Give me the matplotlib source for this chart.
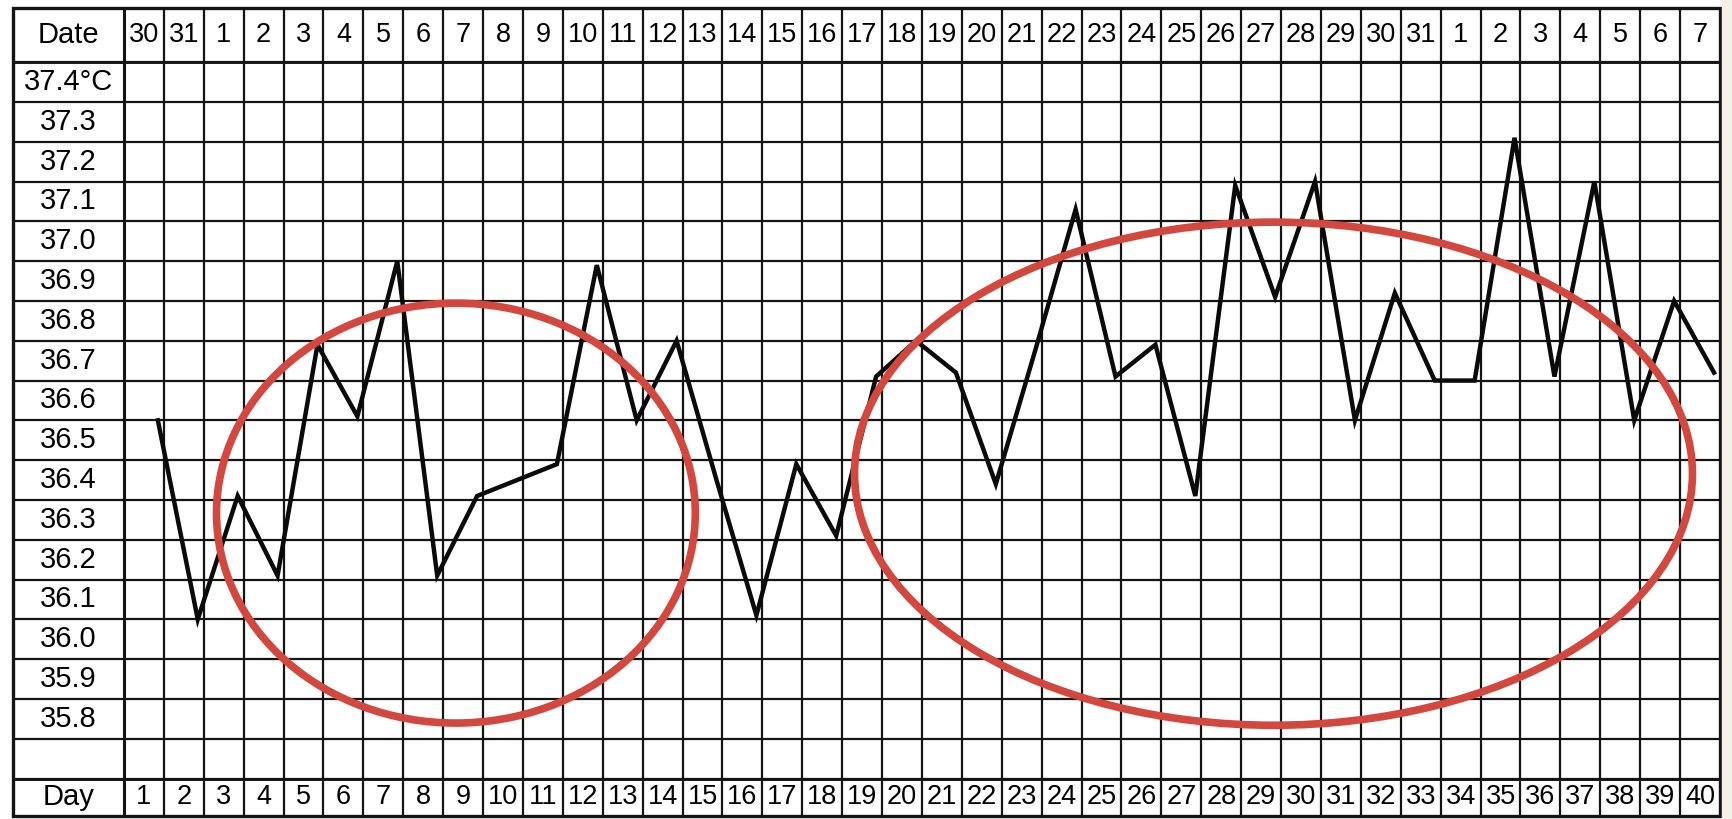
import numpy as np
import matplotlib.pyplot as plt
from matplotlib.patches import Ellipse, Rectangle
from matplotlib.transforms import ScaledTranslation

plt.rcParams['font.family'] = ['Liberation Sans', 'DejaVu Sans']

# --- data ---
days = np.arange(1, 41)
dates = ["30", "31", "1", "2", "3", "4", "5", "6", "7", "8", "9", "10", "11",
         "12", "13", "14", "15", "16", "17", "18", "19", "20", "21", "22", "23",
         "24", "25", "26", "27", "28", "29", "30", "31", "1", "2", "3", "4",
         "5", "6", "7"]
temps = [36.55, 36.05, 36.36, 36.16, 36.74, 36.56, 36.95, 36.16, 36.36, 36.40,
         36.44, 36.94, 36.55, 36.75, 36.40, 36.06, 36.44, 36.26, 36.66, 36.75,
         36.67, 36.39, 36.73, 37.08, 36.66, 36.74, 36.36, 37.14, 36.86, 37.15,
         36.55, 36.87, 36.65, 36.65, 37.26, 36.66, 37.15, 36.55, 36.85, 36.67]
temp_ticks = [37.4, 37.3, 37.2, 37.1, 37.0, 36.9, 36.8, 36.7, 36.6, 36.5,
              36.4, 36.3, 36.2, 36.1, 36.0, 35.9, 35.8]
temp_labels = ["37.4°C", "37.3", "37.2", "37.1", "37.0", "36.9", "36.8", "36.7",
               "36.6", "36.5", "36.4", "36.3", "36.2", "36.1", "36.0", "35.9", "35.8"]

# red rings: (centre day, centre temp, width in days, height in degrees)
rings = [(8.82, 36.317, 12.0, 1.055), (29.31, 36.416, 21.0, 1.264)]

# --- layout of the printed form ---
W, H = 1733, 819
fig = plt.figure(figsize=(W / 100, H / 100), dpi=100)
fig.patch.set_facecolor('white')
fig.patches.append(Rectangle((1722 / W, 0), 11 / W, 1, transform=fig.transFigure,
                             color='#f2f2e8', zorder=0))
ax = fig.add_axes([13 / W, 1 - 816 / H, (1720 - 13) / W, (816 - 8) / H])
x_left, x_right = -2.28, 40.5
y_bot, y_top = 35.556, 37.586
ax.set_xlim(x_left, x_right)
ax.set_ylim(y_bot, y_top)
ax.axis('off')

ink = '#141414'
for x in np.arange(1.5, 40.5, 1):
    ax.axvline(x, color=ink, lw=1.6, zorder=1)
ax.axvline(0.5, color=ink, lw=2.2, zorder=1)
row_edges = 37.45 - 0.1 * np.arange(19)
for y in row_edges:
    ax.axhline(y, color=ink, lw=1.6, zorder=1)
ax.axhline(37.45, color=ink, lw=2.1, zorder=1)
ax.axhline(35.65, color=ink, lw=2.1, zorder=1)
ax.add_patch(Rectangle((0, 0), 1, 1, transform=ax.transAxes, fill=False,
                       ec=ink, lw=2.4, clip_on=False, zorder=2))

# --- texts ---
label_x = (x_left + 0.5) / 2
date_y = (y_top + 37.45) / 2
day_y = (35.65 + y_bot) / 2
fs = 19.5
ax.text(label_x, date_y, "Date", ha='center', va='center', fontsize=21)
ax.text(label_x, day_y, "Day", ha='center', va='center', fontsize=21)
for t, lab in zip(temp_ticks, temp_labels):
    ax.text(label_x, t, lab, ha='center', va='center', fontsize=21)
for d, lab in zip(days, dates):
    ax.text(d, date_y, lab, ha='center', va='center', fontsize=fs)
    ax.text(d, day_y, str(d), ha='center', va='center', fontsize=fs)

# --- temperature curve (drawn slightly right of the column centres, as on the form) ---
shift = ax.transData + ScaledTranslation(0.14, 0, fig.dpi_scale_trans)
ax.plot(days, temps, color='#0a0a0a', lw=3.2, transform=shift,
        solid_joinstyle='miter', zorder=3)

for cx, cy, w, h in rings:
    ax.add_patch(Ellipse((cx, cy), w, h, fill=False, ec='#d2473e', lw=5.5, zorder=4))

fig.savefig('out.png', dpi=100)
